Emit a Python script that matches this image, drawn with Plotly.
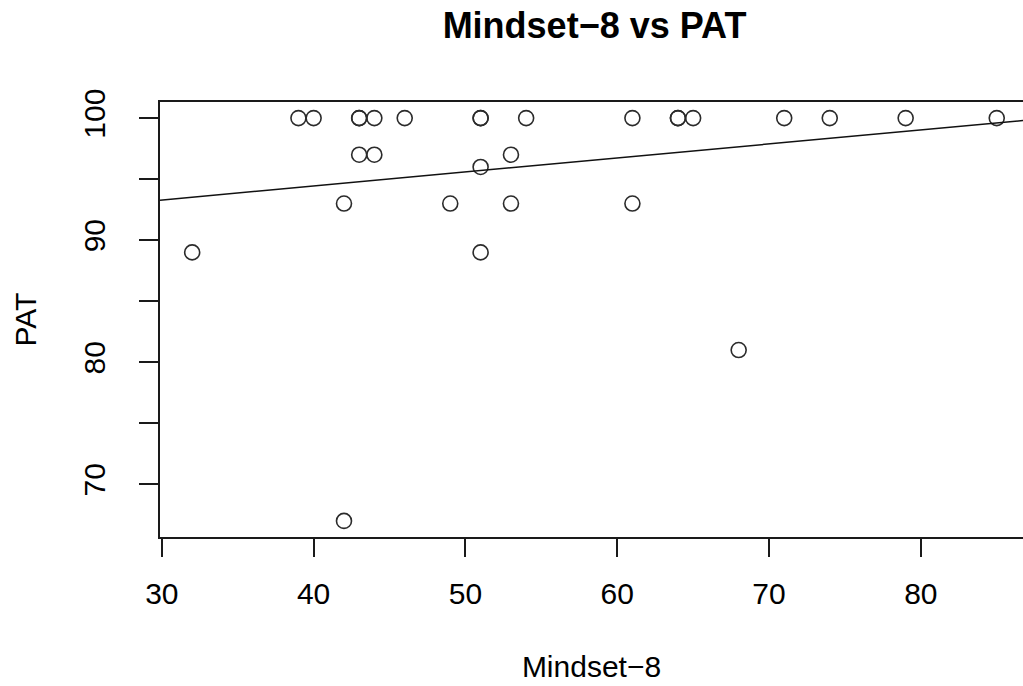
import numpy as np
import plotly.graph_objects as go

# Data
mindset8 = [39, 40, 43, 43, 44, 46, 51, 51, 54, 61, 64, 64, 65, 71, 74, 79, 85,
            43, 44, 53, 51, 42, 49, 53, 61, 32, 51, 68, 42]
pat = [100, 100, 100, 100, 100, 100, 100, 100, 100, 100, 100, 100, 100, 100, 100, 100, 100,
       97, 97, 97, 96, 93, 93, 93, 93, 89, 89, 81, 67]

x_ticks = [30, 40, 50, 60, 70, 80]
y_ticks = [70, 75, 80, 85, 90, 95, 100]
y_tick_text = ["70", "", "80", "", "90", "", "100"]

X_RANGE = [29.88, 86.73]
Y_RANGE = [65.68, 101.32]

# Least-squares fit line (abline(lm(PAT ~ Mindset-8)))
slope, intercept = np.polyfit(mindset8, pat, 1)
line_x = np.array(X_RANGE)
line_y = intercept + slope * line_x

FONT = "Liberation Sans, Arial, Helvetica, sans-serif"
INK = "#1a1a1a"

W, H = 1023, 686

fig = go.Figure()
fig.add_trace(go.Scatter(
    x=mindset8, y=pat, mode="markers",
    marker=dict(symbol="circle-open", size=15, color="#2b2b2b", line=dict(width=1.6, color="#2b2b2b")),
    showlegend=False, hoverinfo="x+y",
))
fig.add_trace(go.Scatter(
    x=line_x, y=line_y, mode="lines",
    line=dict(color="#111111", width=1.5),
    showlegend=False, hoverinfo="skip",
))

fig.update_layout(
    width=W, height=H,
    margin=dict(l=160, r=0, t=102, b=149, autoexpand=False),
    paper_bgcolor="white", plot_bgcolor="white",
    font=dict(family=FONT, size=30, color="black"),
    title=dict(text="<b>Mindset\u22128 vs PAT</b>", font=dict(family=FONT, size=36, color="black"),
               xref="container", x=594.5 / W, xanchor="center",
               yref="container", y=1 - 25 / H, yanchor="middle"),
    xaxis=dict(range=X_RANGE, tickvals=x_ticks, ticktext=[str(v) for v in x_ticks],
               showgrid=False, zeroline=False,
               showline=True, linecolor=INK, linewidth=2, mirror=True,
               ticks="outside", ticklen=18, tickwidth=2, tickcolor=INK,
               ticklabelstandoff=11, tickfont=dict(size=30, family=FONT, color="black"),
               title=dict(text="Mindset\u22128", font=dict(size=30, family=FONT, color="black"), standoff=47),
               automargin=False),
    yaxis=dict(range=Y_RANGE, tickvals=y_ticks, ticktext=y_tick_text,
               showgrid=False, zeroline=False,
               showline=True, linecolor=INK, linewidth=2, mirror=False,
               ticks="outside", ticklen=19, tickwidth=2, tickcolor=INK,
               tickangle=-90, ticklabelstandoff=22,
               tickfont=dict(size=30, family=FONT, color="black"),
               title=dict(text="PAT", font=dict(size=30, family=FONT, color="black"), standoff=33),
               automargin=False),
)

fig.write_html(
    "out.html",
    config={"displayModeBar": False},
    post_script="document.body.style.margin='0';document.body.style.overflow='hidden';",
)
